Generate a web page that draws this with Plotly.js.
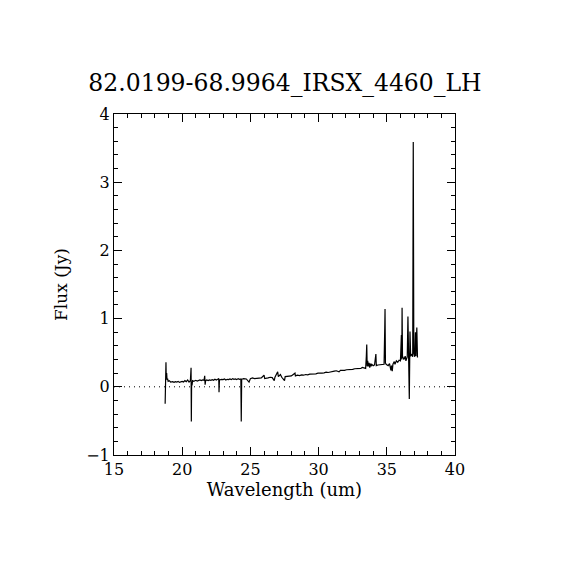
<!DOCTYPE html>
<html>
<head>
<meta charset="utf-8">
<script src="https://cdn.plot.ly/plotly-3.0.1.min.js"></script>
<style>html,body{margin:0;padding:0;background:#fff;}#plot{width:570px;height:570px;}</style>
</head>
<body>
<div id="plot"></div>
<script>
const titleText = "82.0199-68.9964_IRSX_4460_LH";
const xTitle = "Wavelength (um)";
const yTitle = "Flux (Jy)";
const xTickVals = [15, 20, 25, 30, 35, 40];
const yTickVals = [-1, 0, 1, 2, 3, 4];

const wavelength = [
 18.75, 18.77, 18.79, 18.81, 18.83, 18.86, 18.89, 18.93, 18.97, 19.05,
 19.15, 19.30, 19.40, 19.50, 19.60, 19.70, 19.80, 19.90, 20.00, 20.10,
 20.20, 20.30, 20.40, 20.50, 20.60, 20.65, 20.67, 20.69, 20.72, 20.76,
 20.85, 21.00, 21.10, 21.20, 21.30, 21.40, 21.50, 21.60, 21.65, 21.68,
 21.72, 21.80, 21.90, 22.00, 22.10, 22.20, 22.30, 22.40, 22.50, 22.60,
 22.68, 22.70, 22.73, 22.90, 23.00, 23.10, 23.20, 23.30, 23.40, 23.50,
 23.60, 23.70, 23.80, 23.90, 24.00, 24.10, 24.20, 24.30, 24.33, 24.36,
 24.50, 24.70, 24.90, 25.00, 25.15, 25.30, 25.50, 25.65, 25.80, 26.00,
 26.05, 26.30, 26.45, 26.60, 26.75, 26.80, 27.00, 27.05, 27.20, 27.30,
 27.50, 27.55, 27.80, 28.00, 28.27, 28.30, 28.45, 28.60, 28.75, 28.90,
 29.05, 29.20, 29.35, 29.50, 29.65, 29.80, 29.95, 30.10, 30.25, 30.40,
 30.55, 30.70, 30.85, 31.00, 31.15, 31.30, 31.50, 31.60, 31.75, 31.90,
 32.05, 32.20, 32.35, 32.50, 32.65, 32.80, 32.95, 33.10, 33.20, 33.30,
 33.45, 33.50, 33.53, 33.56, 33.60, 33.65, 33.70, 33.75, 33.80, 33.85,
 33.90, 34.00, 34.10, 34.20, 34.23, 34.35, 34.50, 34.65, 34.80, 34.85,
 34.87, 34.90, 34.95, 35.10, 35.20, 35.30, 35.35, 35.40, 35.45, 35.55,
 35.60, 35.70, 35.80, 35.90, 36.00, 36.07, 36.10, 36.12, 36.15, 36.25,
 36.35, 36.40, 36.50, 36.55, 36.60, 36.65, 36.70, 36.75, 36.85, 36.90,
 36.94, 36.98, 37.05, 37.10, 37.14, 37.20, 37.25
];
const flux = [
 -0.25, 0.30, -0.20, 0.36, 0.12, 0.20, 0.10, 0.12, 0.08, 0.09,
 0.07, 0.075, 0.065, 0.075, 0.07, 0.08, 0.065, 0.075, 0.08, 0.07,
 0.09, 0.075, 0.10, 0.07, 0.09, 0.28, -0.51, 0.05, 0.02, 0.09,
 0.08, 0.095, 0.085, 0.09, 0.10, 0.09, 0.10, 0.095, 0.16, 0.03,
 0.09, 0.10, 0.09, 0.10, 0.095, 0.105, 0.095, 0.11, 0.10, 0.11,
 0.12, -0.08, 0.10, 0.11, 0.105, 0.115, 0.10, 0.11, 0.105, 0.115,
 0.105, 0.12, 0.11, 0.115, 0.105, 0.12, 0.11, 0.115, -0.51, 0.11,
 0.12, 0.115, 0.07, 0.12, 0.13, 0.12, 0.125, 0.135, 0.13, 0.17,
 0.12, 0.13, 0.14, 0.135, 0.09, 0.14, 0.22, 0.15, 0.18, 0.14,
 0.09, 0.15, 0.15, 0.16, 0.20, 0.16, 0.17, 0.165, 0.175, 0.17,
 0.18, 0.175, 0.185, 0.185, 0.18, 0.19, 0.20, 0.195, 0.20, 0.205,
 0.215, 0.21, 0.22, 0.22, 0.23, 0.235, 0.22, 0.24, 0.235, 0.24,
 0.25, 0.25, 0.245, 0.255, 0.265, 0.265, 0.26, 0.27, 0.285, 0.28,
 0.27, 0.45, 0.62, 0.30, 0.38, 0.30, 0.35, 0.28, 0.34, 0.30,
 0.33, 0.31, 0.32, 0.48, 0.31, 0.32, 0.32, 0.32, 0.33, 0.86,
 1.14, 0.35, 0.33, 0.31, 0.34, 0.24, 0.31, 0.23, 0.33, 0.37,
 0.33, 0.38, 0.36, 0.39, 0.38, 0.76, 0.40, 1.16, 0.45, 0.40,
 0.45, 0.38, 0.44, 1.03, 0.30, -0.18, 0.81, 0.45, 0.48, 0.44,
 3.59, 0.50, 0.44, 0.80, 0.45, 0.87, 0.43
];

const font = "'DejaVu Serif', 'Liberation Serif', serif";

const traces = [{
  x: wavelength, y: flux, type: 'scatter', mode: 'lines',
  line: {color: '#000', width: 1.2}, hoverinfo: 'skip', showlegend: false
}];

const axisCommon = {
  showgrid: false, zeroline: false, showline: true, linecolor: '#000', linewidth: 1,
  mirror: 'allticks', ticks: 'inside', ticklen: 8, tickwidth: 1, tickcolor: '#000',
  tickfont: {family: font, size: 16, color: '#000'}, tickmode: 'array'
};

const layout = {
  width: 570, height: 570,
  paper_bgcolor: '#fff', plot_bgcolor: '#fff',
  margin: {l: 114, r: 115, t: 114, b: 115, pad: 0},
  title: {text: titleText, font: {family: font, size: 23.5, color: '#000'}, x: 0.5, xanchor: 'center', y: 0.855, yanchor: 'middle'},
  xaxis: Object.assign({}, axisCommon, {
    range: [15, 40], tickvals: xTickVals, ticktext: xTickVals.map(String),
    minor: {dtick: 1, ticklen: 4, tickwidth: 1, tickcolor: '#000', ticks: 'inside'},
    title: {text: xTitle, font: {family: font, size: 18, color: '#000'}, standoff: 5}
  }),
  yaxis: Object.assign({}, axisCommon, {
    range: [-1, 4], tickvals: yTickVals, ticktext: yTickVals.map(v => v < 0 ? '\u2212' + Math.abs(v) : String(v)),
    minor: {dtick: 0.2, ticklen: 4, tickwidth: 1, tickcolor: '#000', ticks: 'inside'},
    title: {text: yTitle, font: {family: font, size: 17, color: '#000'}, standoff: 14}
  }),
  shapes: [{type: 'line', xref: 'paper', x0: 0, x1: 1, yref: 'y', y0: 0, y1: 0,
            line: {color: '#000', width: 1, dash: '1px,4px'}}]
};

Plotly.newPlot('plot', traces, layout, {displayModeBar: false, staticPlot: true});
</script>
</body>
</html>
